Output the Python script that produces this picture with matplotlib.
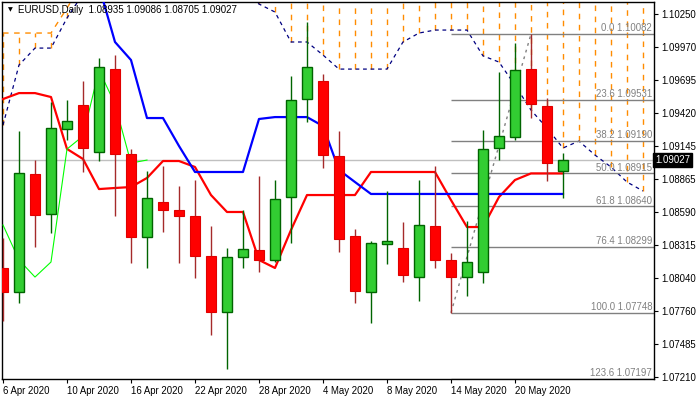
import numpy as np
import pandas as pd
import matplotlib
matplotlib.use("Agg")
import matplotlib.pyplot as plt

# EURUSD daily candles, 6 Apr 2020 .. 25 May 2020
opens = [1.08123, 1.07922, 1.08910, 1.08575, 1.09287, 1.09488, 1.09094, 1.09789, 1.09078, 1.08382,
         1.08676, 1.08609, 1.08558, 1.08223, 1.07754, 1.08215, 1.08274, 1.08190, 1.08717, 1.09538,
         1.09689, 1.09061, 1.08391, 1.07922, 1.08324, 1.08290, 1.08047, 1.08475, 1.08190, 1.08047,
         1.08089, 1.09128, 1.09220, 1.09789, 1.09480, 1.08935]
highs = [1.08374, 1.09270, 1.09027, 1.09513, 1.09530, 1.09689, 1.09882, 1.09907, 1.09119, 1.08935,
         1.08977, 1.08810, 1.08860, 1.08475, 1.08290, 1.08609, 1.08893, 1.08860, 1.09731, 1.10183,
         1.09748, 1.09270, 1.08449, 1.08349, 1.08768, 1.08508, 1.08860, 1.08977, 1.08248, 1.08516,
         1.09279, 1.09764, 1.10007, 1.10082, 1.09547, 1.09086]
lows = [1.07679, 1.07830, 1.08299, 1.08416, 1.09195, 1.08927, 1.09019, 1.08558, 1.08165, 1.08123,
        1.08424, 1.08165, 1.08039, 1.07562, 1.07277, 1.08123, 1.08089, 1.08173, 1.08332, 1.09346,
        1.08960, 1.08257, 1.07830, 1.07662, 1.08156, 1.08006, 1.07846, 1.08123, 1.07748, 1.07888,
        1.07997, 1.09027, 1.09195, 1.09379, 1.08851, 1.08705]
closes = [1.07922, 1.08918, 1.08567, 1.09295, 1.09354, 1.09128, 1.09806, 1.09078, 1.08382, 1.08709,
          1.08609, 1.08558, 1.08223, 1.07754, 1.08215, 1.08282, 1.08190, 1.08701, 1.09530, 1.09806,
          1.09069, 1.08366, 1.07930, 1.08332, 1.08349, 1.08064, 1.08483, 1.08190, 1.08047, 1.08173,
          1.09119, 1.09228, 1.09781, 1.09496, 1.09002, 1.09027]

# Ichimoku lines
tenkan = [1.09538, 1.09588, 1.09588, 1.09555, 1.09120, 1.09036, 1.08784, 1.08793, 1.08801, 1.08877,
          1.09019, 1.09019, 1.08969, 1.08734, 1.08592, 1.08592, 1.08190, 1.08123, 1.08441, 1.08734,
          1.08734, 1.08734, 1.08734, 1.08927, 1.08927, 1.08927, 1.08927, 1.08927, 1.08692, 1.08466,
          1.08466, 1.08717, 1.08860, 1.08915, 1.08915, 1.08915]
kijun = [1.10700, 1.10700, 1.10680, 1.10650, 1.10600, 1.10550, 1.10485, 1.10016, 1.09865, 1.09379,
         1.09379, 1.09145, 1.08927, 1.08927, 1.08927, 1.08927, 1.09371, 1.09387, 1.09387, 1.09387,
         1.09312, 1.08944, 1.08843, 1.08743, 1.08743, 1.08743, 1.08743, 1.08743, 1.08743, 1.08743,
         1.08743, 1.08743, 1.08743, 1.08743, 1.08743, 1.08743]
span_a = [1.10091, 1.10091, 1.10091, 1.10091, 1.10300, 1.10520, 1.10650, 1.10700, 1.10750, 1.10800,
          1.10800, 1.10800, 1.10780, 1.10750, 1.10700, 1.10680, 1.10650, 1.10620, 1.10600, 1.10580,
          1.10560, 1.10550, 1.10550, 1.10540, 1.10530, 1.10520, 1.10500, 1.10480, 1.10460, 1.10450,
          1.10440, 1.10430, 1.10420, 1.10410, 1.10400, 1.10400, 1.10400, 1.10400, 1.10400, 1.10400,
          1.10400]
span_b = [1.09320, 1.09823, 1.09965, 1.09965, 1.10217, 1.10420, 1.10500, 1.10550, 1.10550, 1.10550,
          1.10550, 1.10550, 1.10550, 1.10520, 1.10480, 1.10430, 1.10334, 1.10267, 1.10016, 1.10016,
          1.09907, 1.09789, 1.09789, 1.09789, 1.09789, 1.10016, 1.10091, 1.10116, 1.10116, 1.10116,
          1.09900, 1.09848, 1.09655, 1.09446, 1.09295, 1.09128, 1.09186, 1.09069, 1.08969, 1.08843,
          1.08768]

# fibonacci retracement from 14 May low to 21 May high
fib_low_bar, fib_high_bar = 28, 33
fib_levels = [0.0, 23.6, 38.2, 50.0, 61.8, 76.4, 100.0, 123.6]

yticks = [1.10250, 1.09970, 1.09695, 1.09420, 1.09145, 1.08865, 1.08590, 1.08315,
          1.08040, 1.07760, 1.07485, 1.07210]

dates = pd.bdate_range("2020-04-06", periods=len(opens))

FONT = "Liberation Sans"
plt.rcParams["font.family"] = [FONT, "DejaVu Sans"]
plt.rcParams["font.size"] = 6.9

fig = plt.figure(figsize=(7, 4), dpi=100)
ax = fig.add_axes([2 / 700, 21 / 400, 652 / 700, 377 / 400])
xmax = 40.69
ax.set_xlim(-0.0625, xmax)
ax.set_ylim(1.07193, 1.10351)

idx = np.arange(len(opens))
o = np.array(opens); c = np.array(closes)
h = np.array(highs); l = np.array(lows)
up = c >= o

# cloud (vertical dashes between the spans) and span lines
orange = "#ff8c00"
cx = np.arange(len(span_a))
sa = np.array(span_a); sb = np.array(span_b)
ax.vlines(cx, np.minimum(sa, sb), np.maximum(sa, sb), colors=orange,
          linestyles=(0, (4, 4)), lw=1.0, zorder=1)
ax.plot(cx, sa, color=orange, ls=(0, (4, 4)), lw=1.0, zorder=1)
ax.plot(cx, sb, color="#000080", ls=(0, (3, 3)), lw=0.9, zorder=2)

# current price line
ax.axhline(closes[-1], color="#c0c0c0", lw=1, zorder=1)

# fibonacci
f_hi, f_lo = highs[fib_high_bar], lows[fib_low_bar]
for lev in fib_levels:
    p = f_hi - (f_hi - f_lo) * lev / 100
    ax.hlines(p, fib_low_bar, xmax, colors="#808080", lw=1, zorder=2)
    ax.annotate(f"{lev:.1f} {p:.5f}", (0.997, p), xycoords=("axes fraction", "data"),
                xytext=(0, 0.5), textcoords="offset points", ha="right", va="bottom",
                color="#808080", zorder=3)
ax.plot([fib_low_bar, fib_high_bar], [f_lo, f_hi], color="#808080", ls=(0, (2, 3)), lw=1, zorder=2)

# ichimoku lines
ax.plot(idx, tenkan, color="red", lw=1.6, zorder=3)
ax.plot(idx, kijun, color="blue", lw=1.6, zorder=3)
ax.plot(idx[:len(closes) - 26], closes[26:], color="#00ff00", lw=0.8, zorder=3)

# candles on top
ax.vlines(idx[up], l[up], h[up], colors="#006400", lw=1, zorder=4)
ax.vlines(idx[~up], l[~up], h[~up], colors="#a52a2a", lw=1, zorder=4)
ax.bar(idx[up], (c - o)[up], bottom=o[up], width=0.64, color="#32cd32",
       edgecolor="#006400", lw=1, zorder=5)
ax.bar(idx[~up], (o - c)[~up], bottom=c[~up], width=0.64, color="#ff0000",
       edgecolor="#e00000", lw=0.8, zorder=5)

# axes styling
for s in ax.spines.values():
    s.set_color("black")
    s.set_linewidth(1)
ax.yaxis.tick_right()
ax.set_yticks(yticks)
ax.set_yticklabels([f"{v:.5f}" for v in yticks])
ax.tick_params(axis="y", length=3, width=0.8, pad=2, colors="black")
xt = idx[::4][:9]
ax.set_xticks(xt)
ax.set_xticklabels([d.strftime("%-d %b %Y") for d in dates[xt]], ha="left")
ax.tick_params(axis="x", length=3, width=0.8, pad=2, colors="black")

# last price box
ax.text(1.002, closes[-1], f"{closes[-1]:.5f}", transform=ax.get_yaxis_transform(),
        ha="left", va="center", color="white", zorder=10,
        bbox=dict(boxstyle="square,pad=0.2", fc="black", ec="black"))

# header
fig.text(8 / 700, 1 - 10 / 400, "\u25bc", fontsize=4.5, va="center", ha="left", family="DejaVu Sans")
fig.text(18 / 700, 1 - 10 / 400,
         f"EURUSD,Daily  {opens[-1]:.5f} {highs[-1]:.5f} {lows[-1]:.5f} {closes[-1]:.5f}",
         va="center", ha="left", fontsize=7)

fig.savefig("out.png", dpi=100)
